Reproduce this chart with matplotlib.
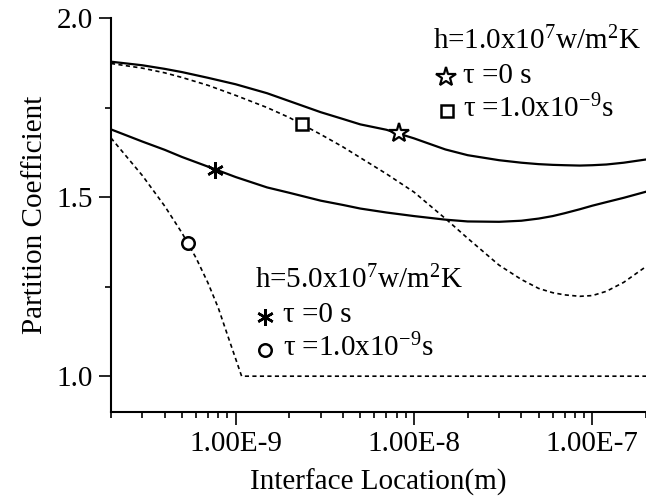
import numpy as np
import matplotlib
matplotlib.use("Agg")
import matplotlib.pyplot as plt
from matplotlib.ticker import FixedLocator, LogLocator, FuncFormatter, MultipleLocator

plt.rcParams['font.family'] = ['Liberation Serif', 'DejaVu Serif']
plt.rcParams['mathtext.fontset'] = 'custom'
plt.rcParams['mathtext.rm'] = 'Liberation Serif'
plt.rcParams['mathtext.it'] = 'Liberation Serif'
plt.rcParams['mathtext.default'] = 'regular'

# interface location grid (m)
x_grid = [2e-10, 3e-10, 4e-10, 5e-10, 7e-10, 1e-9, 1.5e-9, 2e-9, 3e-9, 4e-9, 5e-9,
          7e-9, 1e-8, 1.5e-8, 2e-8, 3e-8, 4e-8, 5e-8, 6e-8, 7e-8, 8.5e-8, 1e-7,
          1.2e-7, 1.5e-7, 2e-7]

# h = 1.0e7, tau = 0 (solid)
pc_h1_t0 = [1.878, 1.868, 1.858, 1.849, 1.833, 1.815, 1.790, 1.768, 1.737, 1.718, 1.703,
            1.688, 1.664, 1.633, 1.617, 1.603, 1.596, 1.592, 1.590, 1.589, 1.588, 1.589,
            1.591, 1.596, 1.605]
# h = 1.0e7, tau = 1e-9 (dashed)
pc_h1_t9 = [1.873, 1.860, 1.847, 1.834, 1.812, 1.784, 1.750, 1.722, 1.675, 1.640, 1.610,
            1.565, 1.514, 1.440, 1.385, 1.310, 1.270, 1.245, 1.233, 1.227, 1.223, 1.225,
            1.237, 1.262, 1.306]
# h = 5.0e7, tau = 0 (solid)
pc_h5_t0 = [1.689, 1.655, 1.632, 1.612, 1.585, 1.556, 1.527, 1.512, 1.490, 1.478, 1.468,
            1.457, 1.447, 1.437, 1.432, 1.431, 1.434, 1.440, 1.447, 1.455, 1.466, 1.476,
            1.486, 1.498, 1.515]
# h = 5.0e7, tau = 1e-9 (dashed)
x_h5_t9 = [2e-10, 3e-10, 4e-10, 5e-10, 6e-10, 7e-10, 8e-10, 9e-10, 1.08e-9, 2e-7]
pc_h5_t9 = [1.665, 1.560, 1.475, 1.400, 1.330, 1.260, 1.190, 1.115, 1.000, 1.000]

# symbols on the curves
star_pt = (8.2e-9, 1.680)
square_pt = (2.36e-9, 1.703)
aster_pt = (7.7e-10, 1.575)
circle_pt = (5.4e-10, 1.372)

fig = plt.figure(figsize=(6.46, 4.98), dpi=100)
ax = fig.add_axes([111/646, 86/498, 535/646, 394/498])

ax.plot(x_grid, pc_h1_t0, color='black', lw=1.6)
ax.plot(x_grid, pc_h1_t9, color='black', lw=1.2, ls=(0, (2.5, 2)))
ax.plot(x_grid, pc_h5_t0, color='black', lw=1.6)
ax.plot(x_h5_t9, pc_h5_t9, color='black', lw=1.2, ls=(0, (2.5, 2)))

mk = dict(color='black', mfc='white', mec='black', ls='none', clip_on=False)
ax.plot(*star_pt, marker='*', ms=15, mew=1.6, **mk)
ax.plot(*square_pt, marker='s', ms=9, mew=1.8, **mk)
ax.plot(*aster_pt, marker=(6, 2, 0), ms=12, mew=1.8, **mk)
ax.plot(*circle_pt, marker='o', ms=9, mew=1.8, **mk)

ax.set_xscale('log')
ax.set_xlim(2e-10, 2e-7)
ax.set_ylim(0.9, 2.0)

ax.xaxis.set_major_locator(FixedLocator([1e-9, 1e-8, 1e-7]))
ax.xaxis.set_major_formatter(FuncFormatter(lambda v, p: '%.2fE%d' % (1.0, round(np.log10(v)))))
ax.xaxis.set_minor_locator(LogLocator(base=10, subs=np.arange(2, 10), numticks=20))
ax.yaxis.set_major_locator(FixedLocator([1.0, 1.5, 2.0]))
ax.yaxis.set_major_formatter(FuncFormatter(lambda v, p: '%.1f' % v))
ax.yaxis.set_minor_locator(MultipleLocator(0.25))

fs = 21
ax.tick_params(which='major', direction='out', length=9, width=1.2, labelsize=fs, pad=4)
ax.tick_params(which='minor', direction='out', length=4.5, width=1.2)
ax.tick_params(axis='x', which='major', pad=5)

for s in ['top', 'right']:
    ax.spines[s].set_visible(False)
for s in ['left', 'bottom']:
    ax.spines[s].set_linewidth(1.5)

ax.set_xlabel('Interface Location(m)', fontsize=fs, labelpad=8)
ax.set_ylabel('Partition Coefficient', fontsize=fs, labelpad=6)

# annotation legends
tr = ax.transAxes
ax.text(0.602, 0.921, r'h=1.0x10$^7$w/m$^2$K', transform=tr, fontsize=fs, va='baseline')
ax.plot(0.626, 0.850, transform=tr, marker='*', ms=15, mew=1.6, **mk)
ax.text(0.658, 0.835, 'τ =0 s', transform=tr, fontsize=fs, va='baseline')
ax.plot(0.628, 0.764, transform=tr, marker='s', ms=9, mew=1.8, **mk)
ax.text(0.658, 0.749, r'τ =1.0x10$^{-9}$s', transform=tr, fontsize=fs, va='baseline')

ax.text(0.269, 0.315, r'h=5.0x10$^7$w/m$^2$K', transform=tr, fontsize=fs, va='baseline')
ax.plot(0.288, 0.241, transform=tr, marker=(6, 2, 0), ms=12, mew=1.8, **mk)
ax.text(0.322, 0.228, 'τ =0 s', transform=tr, fontsize=fs, va='baseline')
ax.plot(0.288, 0.157, transform=tr, marker='o', ms=9, mew=1.8, **mk)
ax.text(0.322, 0.142, r'τ =1.0x10$^{-9}$s', transform=tr, fontsize=fs, va='baseline')

fig.savefig('out.png', dpi=100)
